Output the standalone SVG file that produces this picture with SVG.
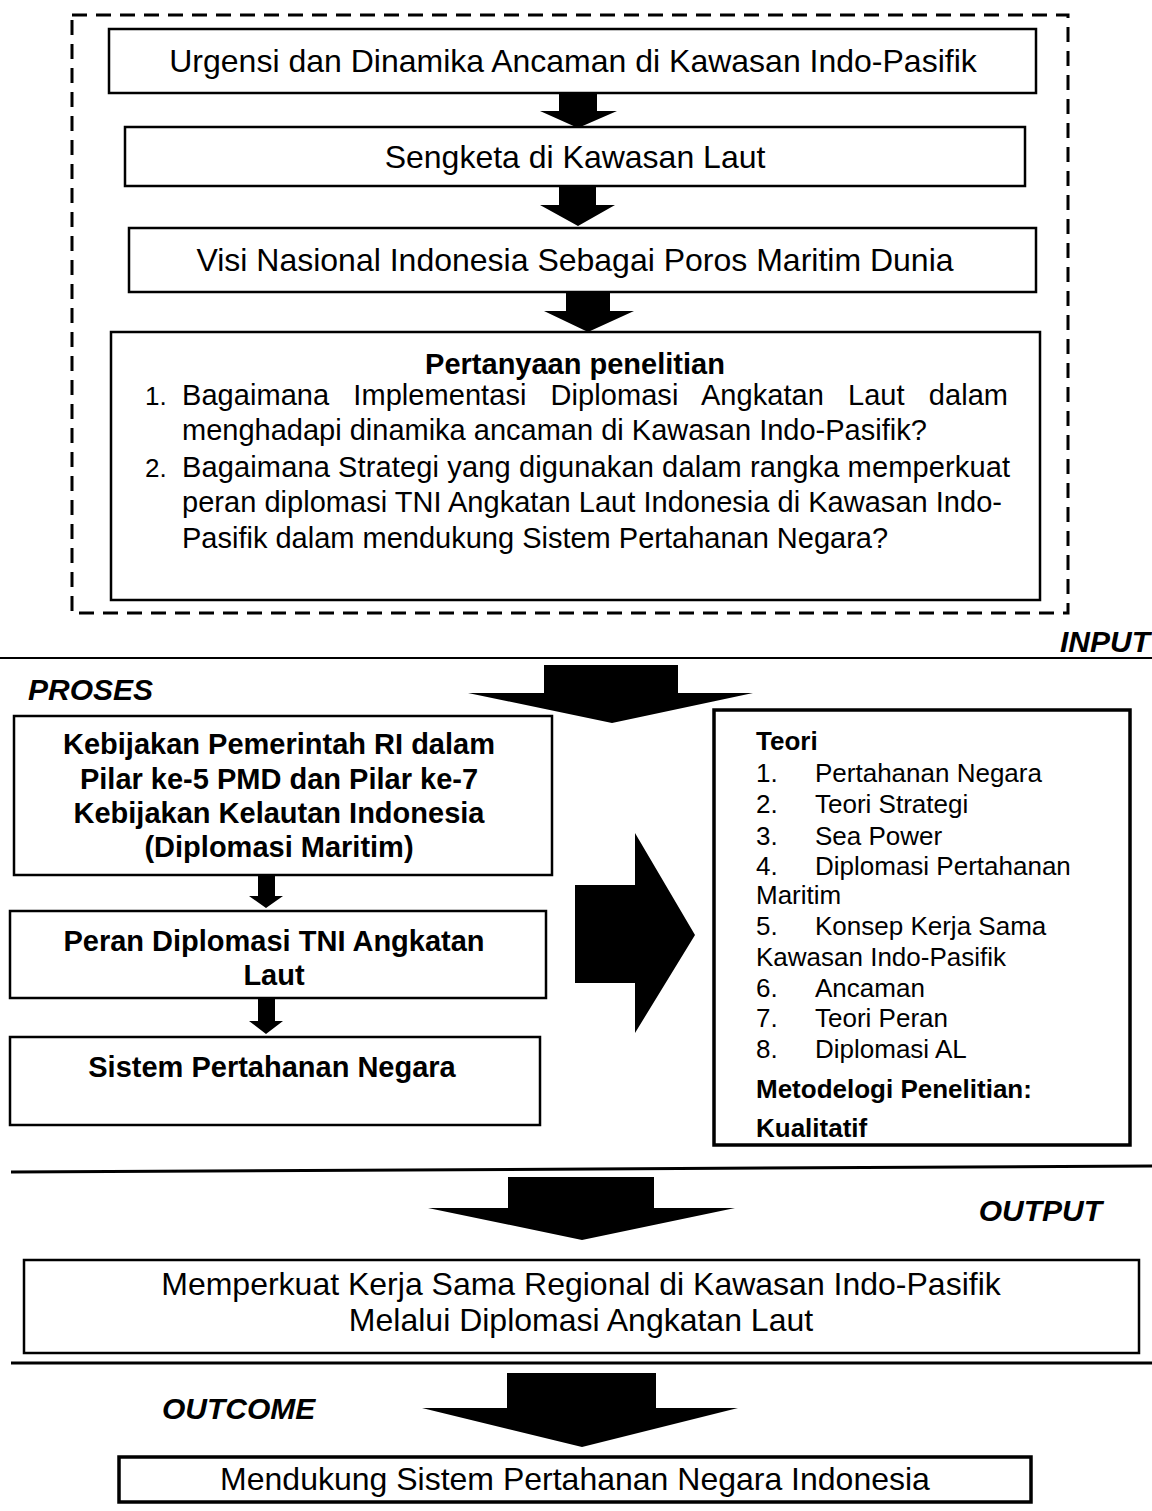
<svg xmlns="http://www.w3.org/2000/svg" width="1152" height="1511" viewBox="0 0 1152 1511">
<style>
.box{fill:#fff;stroke:#000;stroke-width:2.5}
.thick{fill:#fff;stroke:#000;stroke-width:3.5}
.t{font-family:"Liberation Sans",Arial,sans-serif;fill:#000}
.r32{font-size:32px}
.r29{font-size:29px}
.r26{font-size:26px}
.b29{font-size:29px;font-weight:bold}
.b26{font-size:26px;font-weight:bold}
.lbl{font-size:30px;font-weight:bold;font-style:italic}
.c{text-anchor:middle}
.arr{fill:#000;stroke:none}
.ln{stroke:#000;fill:none}
</style>
<rect width="1152" height="1511" fill="#fff"/>

<g id="input-frame">
<rect x="72" y="15" width="996" height="598" fill="none" stroke="#000" stroke-width="3" stroke-dasharray="15 9"/>
</g>

<g id="connectors">
<path class="arr" d="M559,93 H597 V111 H617 L578,128 L540,111 H559 Z"/>
<path class="arr" d="M559,186 H596 V205 H615 L578,226 L540,205 H559 Z"/>
<path class="arr" d="M566,292 H610 V311 H634 L588,332 L544,311 H566 Z"/>
<path class="arr" d="M544,665 H678 V693 H753 L612,723 L468,693 H544 Z"/>
<path class="arr" d="M575,885 H635 V833 L695,935 L635,1033 V983 H575 Z"/>
<path class="arr" d="M258,875 H275 V896 H283 L266,908 L249,896 H258 Z"/>
<path class="arr" d="M258,998 H275 V1021 H283 L266,1034 L249,1021 H258 Z"/>
<path class="arr" d="M508,1177 H654 V1208 H735 L582,1240 L428,1208 H508 Z"/>
<path class="arr" d="M507,1373 H656 V1408 H738 L582,1447 L422,1408 H507 Z"/>
</g>

<g id="dividers">
<line class="ln" x1="0" y1="658" x2="1152" y2="658" stroke-width="2"/>
<line class="ln" x1="11" y1="1172" x2="1152" y2="1166" stroke-width="3"/>
<line class="ln" x1="11" y1="1363" x2="1152" y2="1363" stroke-width="3"/>
</g>

<g id="labels">
<text class="t lbl" x="1150" y="652" text-anchor="end">INPUT</text>
<text class="t lbl" x="28" y="700">PROSES</text>
<text class="t lbl" x="1102" y="1221" text-anchor="end">OUTPUT</text>
<text class="t lbl" x="162" y="1419">OUTCOME</text>
</g>

<g id="node-urgensi">
<rect class="box" x="109" y="29" width="927" height="64"/>
<text class="t r32 c" x="573" y="72">Urgensi dan Dinamika Ancaman di Kawasan Indo-Pasifik</text>
</g>

<g id="node-sengketa">
<rect class="box" x="125" y="127" width="900" height="59"/>
<text class="t r32 c" x="575" y="168">Sengketa di Kawasan Laut</text>
</g>

<g id="node-visi">
<rect class="box" x="129" y="228" width="907" height="64"/>
<text class="t r32 c" x="575" y="271">Visi Nasional Indonesia Sebagai Poros Maritim Dunia</text>
</g>

<g id="node-pertanyaan">
<rect class="box" x="111" y="332" width="929" height="268"/>
<text class="t b29 c" x="575" y="374">Pertanyaan penelitian</text>
<text class="t r26" x="145" y="405">1.</text>
<text class="t r29" x="182" y="405" textLength="826" lengthAdjust="spacing" word-spacing="16">Bagaimana Implementasi Diplomasi Angkatan Laut dalam</text>
<text class="t r29" x="182" y="440">menghadapi dinamika ancaman di Kawasan Indo-Pasifik?</text>
<text class="t r26" x="145" y="477">2.</text>
<text class="t r29" x="182" y="477" textLength="828" lengthAdjust="spacing">Bagaimana Strategi yang digunakan dalam rangka memperkuat</text>
<text class="t r29" x="182" y="512" textLength="820" lengthAdjust="spacing">peran diplomasi TNI Angkatan Laut Indonesia di Kawasan Indo-</text>
<text class="t r29" x="182" y="548">Pasifik dalam mendukung Sistem Pertahanan Negara?</text>
</g>

<g id="node-kebijakan">
<rect class="box" x="14" y="716" width="538" height="159" stroke-width="3"/>
<text class="t b29 c" x="279" y="754">Kebijakan Pemerintah RI dalam</text>
<text class="t b29 c" x="279" y="789">Pilar ke-5 PMD dan Pilar ke-7</text>
<text class="t b29 c" x="279" y="823">Kebijakan Kelautan Indonesia</text>
<text class="t b29 c" x="279" y="857">(Diplomasi Maritim)</text>
</g>

<g id="node-peran">
<rect class="box" x="10" y="911" width="536" height="87" stroke-width="3"/>
<text class="t b29 c" x="274" y="951">Peran Diplomasi TNI Angkatan</text>
<text class="t b29 c" x="274" y="985">Laut</text>
</g>

<g id="node-sistem">
<rect class="box" x="10" y="1037" width="530" height="88" stroke-width="3"/>
<text class="t b29 c" x="272" y="1077">Sistem Pertahanan Negara</text>
</g>

<g id="node-teori">
<rect class="thick" x="714" y="710" width="416" height="435"/>
<text class="t b26" x="756" y="750">Teori</text>
<text class="t r26" x="756" y="782">1.</text><text class="t r26" x="815" y="782">Pertahanan Negara</text>
<text class="t r26" x="756" y="813">2.</text><text class="t r26" x="815" y="813">Teori Strategi</text>
<text class="t r26" x="756" y="845">3.</text><text class="t r26" x="815" y="845">Sea Power</text>
<text class="t r26" x="756" y="875">4.</text><text class="t r26" x="815" y="875">Diplomasi Pertahanan</text>
<text class="t r26" x="756" y="904">Maritim</text>
<text class="t r26" x="756" y="935">5.</text><text class="t r26" x="815" y="935">Konsep Kerja Sama</text>
<text class="t r26" x="756" y="966">Kawasan Indo-Pasifik</text>
<text class="t r26" x="756" y="997">6.</text><text class="t r26" x="815" y="997">Ancaman</text>
<text class="t r26" x="756" y="1027">7.</text><text class="t r26" x="815" y="1027">Teori Peran</text>
<text class="t r26" x="756" y="1058">8.</text><text class="t r26" x="815" y="1058">Diplomasi AL</text>
<text class="t b26" x="756" y="1098">Metodelogi Penelitian:</text>
<text class="t b26" x="756" y="1137">Kualitatif</text>
</g>

<g id="node-memperkuat">
<rect class="box" x="24" y="1260" width="1115" height="93" stroke-width="3"/>
<text class="t r32 c" x="581" y="1295">Memperkuat Kerja Sama Regional di Kawasan Indo-Pasifik</text>
<text class="t r32 c" x="581" y="1331">Melalui Diplomasi Angkatan Laut</text>
</g>

<g id="node-mendukung">
<rect class="thick" x="119" y="1457" width="912" height="45"/>
<text class="t r32 c" x="575" y="1490">Mendukung Sistem Pertahanan Negara Indonesia</text>
</g>
</svg>
